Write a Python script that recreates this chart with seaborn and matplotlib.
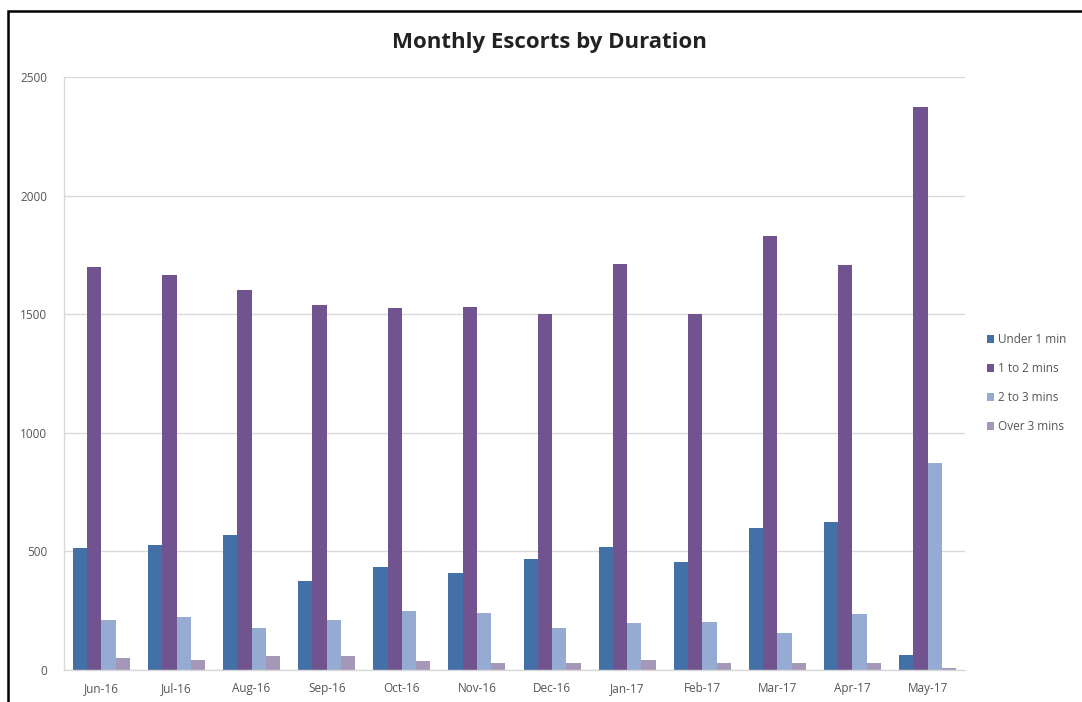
import numpy as np
import pandas as pd
import matplotlib
matplotlib.use("Agg")
import matplotlib.pyplot as plt
import seaborn as sns
from matplotlib.patches import Rectangle, Patch

# monthly escort counts
months = ["Jun-16", "Jul-16", "Aug-16", "Sep-16", "Oct-16", "Nov-16",
          "Dec-16", "Jan-17", "Feb-17", "Mar-17", "Apr-17", "May-17"]
under_1_min = [515, 527, 568, 375, 434, 409, 468, 519, 455, 600, 622, 63]
one_to_2_mins = [1699, 1667, 1602, 1540, 1525, 1530, 1500, 1713, 1500, 1828, 1707, 2373]
two_to_3_mins = [211, 223, 177, 211, 249, 240, 177, 198, 202, 156, 236, 873]
over_3_mins = [50, 42, 59, 59, 38, 30, 30, 42, 30, 30, 30, 10]

series = ["Under 1 min", "1 to 2 mins", "2 to 3 mins", "Over 3 mins"]
colors = ["#4470A8", "#70538F", "#96ABD2", "#A597B8"]

# long format for seaborn
df = pd.DataFrame({"Month": months * 4,
                   "Duration": np.repeat(series, len(months)),
                   "Escorts": under_1_min + one_to_2_mins + two_to_3_mins + over_3_mins})

sns.set_theme(style="white")
plt.rcParams["font.family"] = ["Open Sans", "DejaVu Sans"]

fig = plt.figure(figsize=(10.82, 7.02), dpi=100)
ax = fig.add_axes([0.059, 0.0456, 0.833, 0.8447])

sns.barplot(data=df, x="Month", y="Escorts", hue="Duration", hue_order=series,
            palette=colors, width=0.76, saturation=1, ax=ax, legend=False,
            edgecolor="none", linewidth=0)

ax.set_ylim(0, 2500)
ax.set_yticks(range(0, 2501, 500))
ax.set_xlim(-0.5, len(months) - 0.5)
ax.set_xlabel("")
ax.set_ylabel("")
ax.yaxis.grid(True, color="#d9d9d9", linewidth=1)
ax.set_axisbelow(True)
for side in ["top", "right"]:
    ax.spines[side].set_visible(False)
for side in ["left", "bottom"]:
    ax.spines[side].set_color("#d9d9d9")
    ax.spines[side].set_linewidth(1)
ax.tick_params(axis="both", labelsize=8.5, colors="#555555", length=0)
ax.tick_params(axis="y", pad=12)
ax.tick_params(axis="x", pad=9)

fig.text(0.508, 0.94, "Monthly Escorts by Duration", ha="center", va="center",
         fontsize=16, fontweight="bold", color="#222222")

handles = [Patch(facecolor=c, edgecolor="none", label=s) for c, s in zip(colors, series)]
fig.legend(handles=handles, loc="center left", bbox_to_anchor=(0.902, 0.454),
           frameon=False, fontsize=8.5, labelcolor="#555555",
           handlelength=0.6, handleheight=0.6, handletextpad=0.4, labelspacing=1.35)

# black frame around the chart
fig.patches.append(Rectangle((8 / 1082, -0.05), 1.1, 1 - 11 / 702 + 0.05,
                             transform=fig.transFigure, fill=False,
                             edgecolor="black", linewidth=1.8))

fig.savefig("out.png", dpi=100)
